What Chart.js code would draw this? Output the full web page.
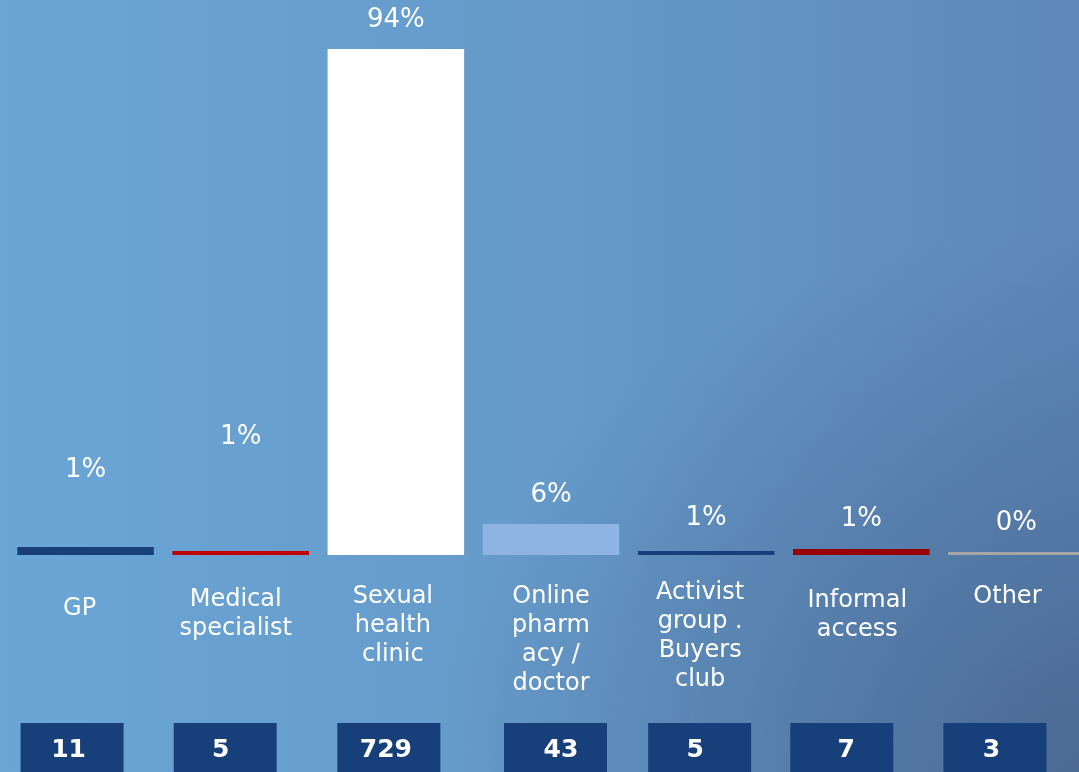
<!DOCTYPE html>
<html>
<head>
<meta charset="utf-8">
<script src="https://cdn.jsdelivr.net/npm/chart.js@4.4.1/dist/chart.umd.min.js"></script>
<style>
  html, body { margin: 0; padding: 0; overflow: hidden; width: 1079px; height: 772px; }
  body {
    background:
      radial-gradient(ellipse 60% 70% at 100% 100%, rgba(60, 80, 120, 0.55), rgba(60, 80, 120, 0) 100%),
      linear-gradient(to right, #6aa6d6 0%, #6599c8 55%, #5d88b8 100%);
  }
  #wrap { position: absolute; left: 0; top: 0; width: 1095px; height: 772px; }
</style>
</head>
<body>
<div id="wrap"><canvas id="chart"></canvas></div>
<script>
// categories (already split into lines as on the slide)
const categories = [
  ['GP'],
  ['Medical', 'specialist'],
  ['Sexual', 'health', 'clinic'],
  ['Online', 'pharm', 'acy /', 'doctor'],
  ['Activist', 'group .', 'Buyers', 'club'],
  ['Informal', 'access'],
  ['Other']
];
const shares = [1.49, 0.74, 94, 5.76, 0.74, 1.1, 0.56];   // bar heights, %
const shareLabels = ['1%', '1%', '94%', '6%', '1%', '1%', '0%'];
const counts = [11, 5, 729, 43, 5, 7, 3];
const barColors = ['#17407a', '#c00000', '#ffffff', '#8eb4e3', '#17407a', '#960000', '#a6a6a6'];

const FONT = 'DejaVu Sans, Verdana, sans-serif';

// % labels above bars, category names below, count boxes at the bottom
const extras = {
  id: 'extras',
  afterDatasetsDraw(chart, args, opts) {
    const ctx = chart.ctx;
    const meta = chart.getDatasetMeta(0);
    const base = chart.scales.y.getPixelForValue(0);
    ctx.save();
    ctx.textAlign = 'center';
    ctx.textBaseline = 'middle';
    meta.data.forEach((bar, i) => {
      ctx.fillStyle = '#ffffff';
      ctx.font = '26px ' + FONT;
      ctx.fillText(shareLabels[i], bar.x, bar.y - opts.lift[i]);

      ctx.font = '24px ' + FONT;
      categories[i].forEach((line, k) => {
        ctx.fillText(line, bar.x + opts.nameDx[i], base + 42 + opts.nameDy[i] + k * 29);
      });

      const cx = bar.x + opts.boxShift[i];
      ctx.fillStyle = '#17407a';
      ctx.fillRect(cx - 51.5, 723, 103, 60);
      ctx.fillStyle = '#ffffff';
      ctx.font = 'bold 25px ' + FONT;
      ctx.fillText(String(counts[i]), bar.x + opts.countDx[i], 750);
    });
    ctx.restore();
  }
};

new Chart(document.getElementById('chart'), {
  type: 'bar',
  data: {
    labels: categories,
    datasets: [{
      data: shares,
      backgroundColor: barColors,
      borderWidth: 0,
      barPercentage: 0.88,
      categoryPercentage: 1
    }]
  },
  options: {
    responsive: true,
    maintainAspectRatio: false,
    animation: false,
    layout: { padding: { left: 8, right: 1, top: 0, bottom: 217 } },
    plugins: {
      legend: { display: false },
      tooltip: { enabled: false },
      extras: {
        lift: [77, 114, 29, 29, 33, 30, 29],
        boxShift: [-13.5, -15.5, -7, 4.5, -6.5, -19.5, -21.5],
        countDx: [-17, -20, -10, 10, -11, -15, -25],
        nameDx: [-6, -5, -3, 0, -6, -4, -9],
        nameDy: [12, 3, 0, 0, -4, 4, 0]
      }
    },
    scales: {
      x: { display: false },
      y: {
        display: false,
        min: 0,
        max: 103.1
      }
    }
  },
  plugins: [extras]
});
</script>
</body>
</html>
